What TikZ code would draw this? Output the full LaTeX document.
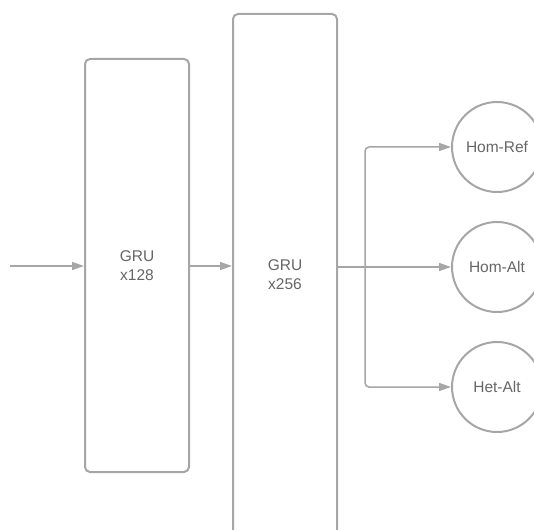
\documentclass[tikz,border=0pt]{standalone}
\usepackage{fontspec}
\setmainfont{Liberation Sans}
\usetikzlibrary{arrows.meta}
\definecolor{linegray}{HTML}{A6A6A6}
\definecolor{textgray}{HTML}{666666}
\begin{document}
\begin{tikzpicture}[x=1pt,y=-1pt,
  layer/.style={draw=linegray, line width=2pt, rounded corners=5pt, fill=white, text=textgray,
     font=\fontsize{15.5}{19}\selectfont, align=center, inner sep=0pt},
  cls/.style={circle, draw=linegray, line width=2pt, text=textgray, minimum size=90pt,
     font=\fontsize{15.5}{19}\selectfont, inner sep=0pt},
  conn/.style={draw=linegray, line width=1.5pt, -{Triangle[length=12pt,width=8pt]}, rounded corners=4pt}]
\useasboundingbox (0,0) rectangle (534,529);
\clip (0,0) rectangle (534,529);
\node[layer, minimum width=104pt, minimum height=413pt] (g1) at (137,265.5) {GRU\\x128};
\node[layer, minimum width=104pt, minimum height=540pt] (g2) at (285,284) {};
\node[text=textgray, font=\fontsize{15.5}{19}\selectfont, align=center] (t2) at (285,275) {GRU\\x256};
\node[cls] (c1) at (497,147) {Hom-Ref};
\node[cls] (c2) at (497,267) {Hom-Alt};
\node[cls] (c3) at (497,387) {Het-Alt};
\coordinate (in) at (10,266);
\draw[conn] (in) -- (g1.west |- in);
\draw[conn] (g1.east |- in) -- (g2.west |- in);
\draw[conn] (g2.east |- c2.west) -- (c2.west);
\coordinate (br) at (365,267);
\draw[conn] (br) -- (br |- c1.west) -- (c1.west);
\draw[conn] (br) -- (br |- c3.west) -- (c3.west);
\end{tikzpicture}
\end{document}
